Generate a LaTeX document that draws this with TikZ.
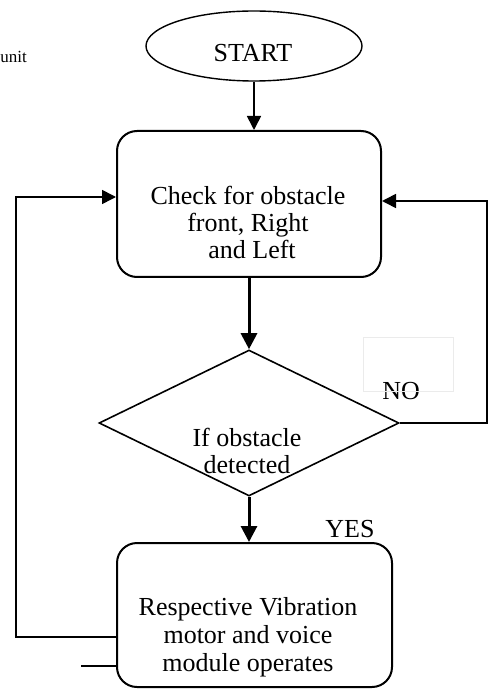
\documentclass[tikz,border=0pt]{standalone}
\usepackage{fontspec}
\setmainfont{Liberation Serif}
\usetikzlibrary{arrows.meta,positioning,calc,shapes.geometric}

\begin{document}
\begin{tikzpicture}[x=0.5pt,y=-0.5pt,
  >={Triangle[length=7pt,width=7pt]},
  term/.style={draw,ellipse,line width=0.7pt,minimum width=108pt,
               minimum height=35pt,inner sep=0pt},
  proc/.style={draw,rounded corners=10pt,line width=1pt,inner sep=0pt},
  dec/.style={draw,diamond,line width=0.8pt,minimum width=150pt,
              minimum height=73pt,inner sep=0pt},
  txt/.style={font=\fontsize{13}{13.5}\selectfont,align=center,inner sep=0pt},
  lbl/.style={font=\fontsize{13}{13.5}\selectfont,inner sep=0pt,anchor=base west},
  a/.style={->,line width=0.8pt},
  ab/.style={->,line width=1.5pt,>={Triangle[length=8pt,width=8pt]}}]
\useasboundingbox (0,0) rectangle (491,689);
\node[term] (start) at (254,46) {};
\node[txt] (startt) at (253,53) {START};
\node[proc,minimum width=132pt,minimum height=73pt] (chk) at (249,204) {};
\node[txt] (chkt) at (248,222) {Check for obstacle\\front, Right\\\hspace*{4pt}and Left};
\node[dec] (dec) at (249,423) {};
\node[txt] (dect) at (247,451) {If obstacle\\detected};
\node[proc,minimum width=137.5pt,minimum height=72pt] (act) at (254.5,615) {};
\node[txt,font=\fontsize{13}{14}\selectfont] (actt) at (248,637)
     {Respective Vibration\\motor and voice\\module operates};
% branch labels
\node[lbl] (no) at (382,399) {NO};
\node[lbl] (yes) at (325,537) {YES};
\node[lbl,font=\fontsize{8.5}{10}\selectfont] (unit) at (0,63) {unit};
\node[draw=black!8,line width=0.5pt,minimum width=45pt,minimum height=27pt] (blank) at (408,364) {};
% corners of the loops
\coordinate (nr) at (487,201);
\coordinate (nl) at (16,197);
\coordinate (st) at (81,666);
\draw[a] (start.south) -- (start.south |- chk.north);
\draw[ab] (chk.south) -- (dec.north);
\draw[ab] (dec.south) -- (dec.south |- act.north);
\draw[a] (dec.east) -| (nr) -- (nr -| chk.east);
\draw[a] ([yshift=-11pt]act.west) -| (nl) -- (nl -| chk.west);
\draw[line width=0.8pt] (st) -- (st -| act.west);
\end{tikzpicture}
\end{document}
